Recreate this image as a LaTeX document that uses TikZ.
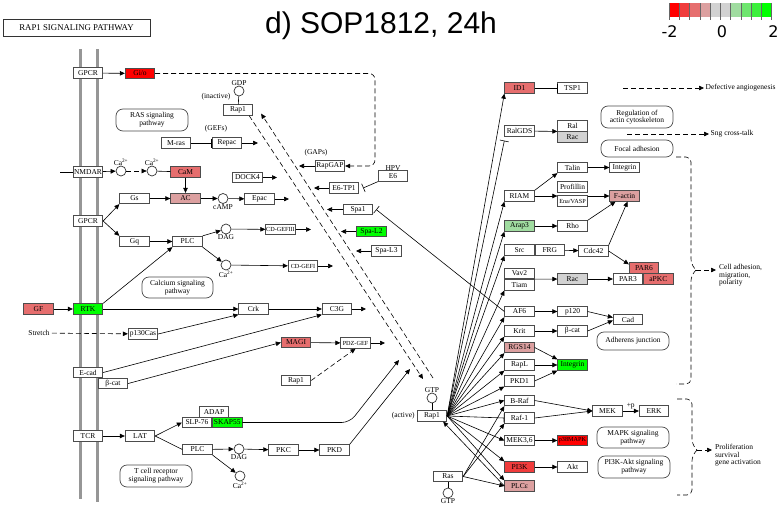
\documentclass[tikz,border=0pt]{standalone}
\usepackage{fontspec}
\setmainfont{Liberation Serif}
\newfontfamily\titlefont{Liberation Sans}
\newfontfamily\barfont{DejaVu Sans}
\usetikzlibrary{positioning,calc,arrows.meta}
\definecolor{lfcA}{RGB}{255,0,0}
\definecolor{lfcB}{RGB}{240,60,60}
\definecolor{lfcC}{RGB}{230,110,110}
\definecolor{lfcD}{RGB}{220,160,160}
\definecolor{lfcE}{RGB}{210,210,210}
\definecolor{lfcF}{RGB}{210,210,210}
\definecolor{lfcG}{RGB}{160,220,160}
\definecolor{lfcH}{RGB}{110,230,110}
\definecolor{lfcI}{RGB}{60,240,60}
\definecolor{lfcJ}{RGB}{0,255,0}
\definecolor{membr}{RGB}{150,150,150}
\newcommand{\kfont}{\fontsize{7.5}{7.6}\selectfont}
\newcommand{\ksmall}{\fontsize{6.2}{6.2}\selectfont}

\begin{document}
\begin{tikzpicture}[x=1pt, y=-1pt, font=\kfont,
  gene/.style={draw=black!70, line width=0.8pt, fill=white, minimum width=29.5pt, minimum height=10.5pt, inner sep=0pt},
  narrow/.style={gene, font=\ksmall},
  cpd/.style={circle, draw=black!80, line width=0.7pt, fill=white, minimum size=10pt, inner sep=0pt},
  pmap/.style={draw=black!70, line width=0.7pt, rounded corners=7pt, align=center, inner sep=0pt},
  lbl/.style={inner sep=0pt},
  act/.style={-{Triangle[length=5pt,width=4.5pt]}, line width=0.6pt},
  inh/.style={-{Bar[width=9pt]}, line width=0.6pt},
  link/.style={line width=0.6pt},
  dsh/.style={dash pattern=on 5pt off 3pt, line width=0.6pt},
  brace/.style={dsh, rounded corners=5pt}]

\fill[white] (0,0) rectangle (779,506);
\useasboundingbox (0,0) rectangle (779,506);

% header and colour key
\node[draw=black!80, line width=1pt, minimum width=147pt, minimum height=17pt, inner sep=0pt,
  font=\fontsize{8.8}{8.8}\selectfont] (ttl) at (76.5,27.5) {RAP1 SIGNALING PATHWAY};
\node[anchor=base, inner sep=0pt, font=\titlefont\fontsize{30}{30}\selectfont] (hdr) at (381,33) {d) SOP1812, 24h};
\foreach \c [count=\i from 0] in {lfcA,lfcB,lfcC,lfcD,lfcE,lfcF,lfcG,lfcH,lfcI,lfcJ}
  \fill[\c] (669.3+10.24*\i,3.3) rectangle ++(10.24,13.4);
\foreach \i in {0,...,10}
  \draw[black!60, line width=0.6pt] (669.3+10.24*\i,3.3) -- ++(0,16.5);
\node[anchor=base, inner sep=0pt, font=\barfont\fontsize{16}{16}\selectfont] (keylo) at (669.5,37) {-2};
\node[anchor=base, inner sep=0pt, font=\barfont\fontsize{16}{16}\selectfont] (keymid) at (722,37) {0};
\node[anchor=base, inner sep=0pt, font=\barfont\fontsize{16}{16}\selectfont] (keyhi) at (773.5,37) {2};

% membrane
\draw[membr, line width=3pt] (80,49) -- (80,499);
\draw[membr, line width=3pt] (97,49) -- (97,502);

% left part
\node[gene] (gpcrA) at (88,73) {GPCR};
\node[gene, fill=lfcA] (gio) at (140,73.5) {Gi/o};
\node[cpd, label={[lbl]above:GDP}] (gdp) at (239,91) {};
\node[gene] (rapIn) at (238,110) {Rap1};
\node[lbl] (inact) at (216,97) {(inactive)};
\node[pmap, minimum width=72pt, minimum height=22pt] (rasmap) at (152,120) {RAS signaling\\pathway};
\node[lbl] (gefs) at (216,129) {(GEFs)};
\node[gene] (mras) at (176,143) {M-ras};
\node[gene] (repac) at (227,143) {Repac};
\coordinate (repacEnd) at (258,143);

\coordinate (nmdarIn) at (60,172);
\node[gene] (nmdar) at (88,172) {NMDAR};
\node[cpd, label={[lbl]above:Ca\textsuperscript{2+}}] (caA) at (121,171) {};
\node[cpd, label={[lbl]above:Ca\textsuperscript{2+}}] (caB) at (152,171) {};
\node[gene, fill=lfcC] (cam) at (185.5,172) {CaM};
\node[gene] (gs) at (134.5,198.5) {Gs};
\node[gene, fill=lfcD] (ac) at (185.5,198.5) {AC};
\node[cpd, label={[lbl]below:cAMP}] (camp) at (223,198.5) {};
\node[gene] (epac) at (259.5,199) {Epac};
\coordinate (epacEnd) at (289,199);
\node[gene] (dock) at (247.5,177.5) {DOCK4};
\coordinate (dockEnd) at (277,177.5);

\node[gene] (gpcrB) at (88,221) {GPCR};
\node[gene] (gq) at (134.5,241.5) {Gq};
\node[gene] (plcA) at (187.5,241.5) {PLC};
\node[cpd, label={[lbl]below:DAG}] (dagA) at (226,229) {};
\node[cpd, label={[lbl]below:Ca\textsuperscript{2+}}] (caC) at (226,265) {};
\node[narrow] (cdgefc) at (280.5,229.5) {CD-GEFIII};
\node[narrow] (cdgefa) at (303,266) {CD-GEFI};
\coordinate (cdgefcEnd) at (311,229.5);
\coordinate (cdgefaEnd) at (333,266);
\node[pmap, minimum width=71pt, minimum height=21pt] (calmap) at (177.5,287.5) {Calcium signaling\\pathway};

\node[gene, fill=lfcC] (gf) at (38.5,309) {GF};
\node[gene, fill=lfcJ] (rtk) at (88,309) {RTK};
\node[gene] (crk) at (253.5,309) {Crk};
\node[gene] (c3g) at (337,309) {C3G};
\coordinate (c3gEnd) at (366,309);
\node[lbl, inner sep=2pt] (stretch) at (39,333) {Stretch};
\node[gene] (pcas) at (143,334) {p130Cas};
\node[gene] (ecad) at (88,372.5) {E-cad};
\node[gene] (bcatA) at (113,383.5) {β-cat};
\node[gene, fill=lfcC] (magi) at (296,342.5) {MAGI};
\node[narrow] (pdzgef) at (355.5,343) {PDZ-GEF};
\coordinate (pdzgefEnd) at (385,343);
\node[gene] (rapLow) at (296,380.5) {Rap1};

\node[gene] (tcr) at (88,436) {TCR};
\node[gene] (lat) at (140,436) {LAT};
\node[gene] (slp) at (197,422.5) {SLP-76};
\node[gene, fill=lfcJ, anchor=west] (skap) at (slp.east) {SKAP55};
\node[gene] (adap) at (214,412) {ADAP};
\node[gene] (plcB) at (197.5,449.5) {PLC};
\node[cpd, label={[lbl]below:DAG}] (dagB) at (239,449) {};
\node[cpd, label={[lbl]below:Ca\textsuperscript{2+}}] (caD) at (240,476) {};
\node[gene] (pkc) at (283.5,450) {PKC};
\node[gene] (pkd) at (334.5,450) {PKD};
\coordinate (pkdEnd) at (410,369);
\coordinate (skapEnd) at (399,360);
\node[pmap, minimum width=72pt, minimum height=22pt] (tcrmap) at (156,476) {T cell receptor\\signaling pathway};

% middle part
\node[gene] (rapgap) at (330,166) {RapGAP};
\node[lbl] (gaps) at (316,152.5) {(GAPs)};
\coordinate (rapgapEnd) at (299,166);
\coordinate (gioBend) at (375,166);
\node[gene] (e6tp) at (344,188) {E6-TP1};
\coordinate (e6tpEnd) at (314,188);
\node[gene, label={[lbl]above:HPV}] (e6) at (393,176) {E6};
\node[gene] (spa1) at (358,209.5) {Spa1};
\coordinate (spa1End) at (327,209.5);
\node[gene, fill=lfcJ] (spal2) at (371.5,231.5) {Spa-L2};
\coordinate (spal2End) at (341,231.5);
\node[gene] (spal3) at (386.5,251) {Spa-L3};
\coordinate (spal3End) at (356,251);
\node[gene] (rapAct) at (432,416) {Rap1};
\node[cpd, label={[lbl]above:GTP}] (gtpA) at (432,398) {};
\node[lbl, left=2pt of rapAct] (actv) {(active)};
\node[gene] (ras) at (448,476.5) {Ras};
\node[cpd, label={[lbl]below:GTP}] (gtpB) at (448,493) {};
\coordinate (dashA) at (423,379);
\coordinate (dashB) at (433,378);

% right part
\node[gene, fill=lfcC] (id1) at (519.5,88) {ID1};
\node[gene] (tsp1) at (572.5,88) {TSP1};
\coordinate (angioStart) at (623,88);
\node[lbl, inner sep=1.5pt, anchor=west] (angio) at (704,88) {Defective angiogenesis};
\node[pmap, minimum width=72pt, minimum height=22pt] (actmap) at (637,117) {Regulation of\\actin cytoskeleton};
\node[gene] (ralgds) at (519.5,131) {RalGDS};
\node[gene] (ral) at (572.5,125.75) {Ral};
\node[gene, fill=lfcE, below=0pt of ral] (racA) {Rac};
\coordinate (sngStart) at (627,134);
\node[lbl, inner sep=1.5pt, anchor=west] (sng) at (709,134) {Sng cross-talk};
\node[pmap, minimum width=72pt, minimum height=17pt] (focmap) at (637,148.5) {Focal adhesion};
\node[gene] (talin) at (572.5,167.5) {Talin};
\node[gene] (integA) at (624.5,167.5) {Integrin};
\node[gene] (prof) at (572.5,187) {Profillin};
\node[narrow] (ena) at (572.5,201) {Ena/VASP};
\node[gene, fill=lfcD] (factin) at (624.5,196) {F-actin};
\node[gene] (riam) at (519.5,196) {RIAM};
\node[gene, fill=lfcG] (arap3) at (519.5,226) {Arap3};
\node[gene] (rho) at (572.5,226) {Rho};
\node[gene] (src) at (519.5,250) {Src};
\node[gene, right=0pt of src] (frg) {FRG};
\node[gene] (cdc42) at (593.5,251) {Cdc42};
\node[gene, fill=lfcC] (par6) at (644,268) {PAR6};
\node[gene] (par3) at (628,279) {PAR3};
\node[gene, fill=lfcC, right=0pt of par3] (apkc) {aPKC};
\node[gene] (vav2) at (519.5,273.5) {Vav2};
\node[gene, below=0pt of vav2] (tiam) {Tiam};
\node[gene, fill=lfcE] (racB) at (572.5,279) {Rac};
\node[gene] (af6) at (519.5,311.5) {AF6};
\node[gene] (p120) at (572.5,311.5) {p120};
\node[gene] (cad) at (628,319.5) {Cad};
\node[gene] (krit) at (519.5,331) {Krit};
\node[gene] (bcatB) at (572.5,331) {β-cat};
\node[pmap, minimum width=72pt, minimum height=18pt] (adhmap) at (633,341) {Adherens junction};
\node[gene, fill=lfcD] (rgs14) at (519.5,347.5) {RGS14};
\node[gene] (rapl) at (519.5,365) {RapL};
\node[gene, fill=lfcJ] (integB) at (572.5,365) {Integrin};
\node[gene] (pkd1) at (519.5,381) {PKD1};
\node[gene] (braf) at (519.5,400.5) {B-Raf};
\node[gene] (raf1) at (519.5,418) {Raf-1};
\node[gene] (mek) at (607.5,411) {MEK};
\node[gene] (erk) at (654,411) {ERK};
\node[gene] (mek36) at (519.5,440.5) {MEK3,6};
\node[narrow, fill=lfcA] (p38) at (572.5,440.5) {p38MAPK};
\node[pmap, minimum width=72pt, minimum height=21pt] (mapkmap) at (633,437.5) {MAPK signaling\\pathway};
\node[gene, fill=lfcB] (pi3k) at (519.5,467) {PI3K};
\node[gene] (akt) at (572.5,467) {Akt};
\node[pmap, minimum width=72pt, minimum height=22pt] (pi3kmap) at (634,467) {PI3K-Akt signaling\\pathway};
\node[gene, fill=lfcD] (plce) at (519.5,486) {PLCε};
\node[lbl, anchor=north west, align=left] (celladh) at (719,264) {Cell adhesion,\\migration,\\polarity};
\node[lbl, anchor=north west, align=left] (prolif) at (715,444) {Proliferation\\survival\\gene activation};
\coordinate (braceA) at (696,270);
\coordinate (braceAEnd) at (716,270);
\coordinate (braceB) at (697,450);
\coordinate (braceBEnd) at (712,450);

% connectors
\draw[act] (gpcrA) -- (gio);
\draw[act, dsh, rounded corners=6pt] (gio.east) -| (gioBend) -- (rapgap.east);
\draw[link] (gdp) -- (rapIn);
\draw[inh] (mras) -- (repac);
\draw[act] (repac) -- (repacEnd);
\draw[act, dsh] ([xshift=-4pt]rapIn.south east) -- (dashA);
\draw[act, dsh] (dashB) -- ([xshift=8pt,yshift=2pt]rapIn.south east);
\draw[link] (nmdarIn) -- (nmdar);
\draw[act] (nmdar) -- (caA);
\draw[act, dsh] (caA) -- (caB);
\draw[link] (caB) -- (cam);
\draw[act] (cam) -- (ac);
\draw[act] (gs) -- (ac);
\draw[act] (ac) -- (camp);
\draw[act] (camp) -- (epac);
\draw[act] (epac) -- (epacEnd);
\draw[act] (dock) -- (dockEnd);
\draw[act] (gpcrB.east) -- (gs.south west);
\draw[act] (gpcrB.east) -- (gq.north west);
\draw[act] (gq) -- (plcA);
\draw[act] (plcA.north east) -- (dagA);
\draw[act] (plcA.south east) -- (caC);
\draw[act] (dagA) -- (cdgefc);
\draw[act] (caC) -- (cdgefa);
\draw[act] (cdgefc) -- (cdgefcEnd);
\draw[act] (cdgefa) -- (cdgefaEnd);
\draw[act] (gf) -- (rtk);
\draw[act] (rtk.north east) -- (plcA.south west);
\draw[act] (rtk) -- (crk);
\draw[act] (crk) -- (c3g);
\draw[act] (c3g) -- (c3gEnd);
\draw[act, dsh] (stretch) -- (pcas);
\draw[act] (pcas.east) -- (crk.south west);
\draw[act] (ecad.east) -- (c3g.south west);
\draw[act] (bcatA.east) -- (magi.west);
\draw[act] (magi) -- (pdzgef);
\draw[act] (pdzgef) -- (pdzgefEnd);
\draw[act, dsh] (rapLow.east) -- (pdzgef.south);
\draw[act] (tcr) -- (lat);
\draw[act] (lat.east) -- (slp.west);
\draw[link] (lat.east) -- (plcB.west);
\draw[act] (plcB) -- (dagB);
\draw[act] (plcB.south east) -- (caD);
\draw[act] (dagB) -- (pkc);
\draw[act] (pkc) -- (pkd);
\draw[act, rounded corners=8pt] (skap.east) -- (skap.east -| pkd.east) -- (skapEnd);
\draw[act] (pkd.north east) -- (pkdEnd);
\draw[act] (rapgap) -- (rapgapEnd);
\draw[act] (e6tp) -- (e6tpEnd);
\draw[inh] (e6.south west) -- ([xshift=4pt]e6tp.east);
\draw[act] (spa1) -- (spa1End);
\draw[inh] (af6.west) -- ([xshift=3pt]spa1.east);
\draw[act] (spal2) -- (spal2End);
\draw[act] (spal3) -- (spal3End);
\draw[link] (gtpA) -- (rapAct);
\draw[link] (ras) -- (gtpB);

\foreach \tgt in {riam, arap3, src, tiam, af6, krit, rgs14, rapl, pkd1}
  \draw[act] (rapAct.east) -- (\tgt.south west);
\foreach \tgt in {braf, mek36}
  \draw[act] (rapAct.east) -- (\tgt.west);
\foreach \tgt in {pi3k, plce}
  \draw[act] (rapAct.east) -- (\tgt.north west);
\draw[act] (rapAct.east) -- (id1.south west);
\draw[inh] (rapAct.east) -- ([yshift=-4pt]ralgds.south west);
\draw[inh] (rapAct.east) -- (raf1.west);
\draw[act] (plce.west) -- ([xshift=-4pt]rapAct.south east);
\foreach \tgt in {braf, raf1}
  \draw[act] (ras.east) -- (\tgt.south west);
\draw[act] (ras.east) -- (plce.west);

\draw[inh] (id1) -- (tsp1);
\draw[act, dsh] (angioStart) -- (angio);
\draw[act] (ralgds) -- (ral.south west);
\draw[act, dsh] (sngStart) -- (sng);
\draw[act] (riam.north east) -- (talin.south west);
\draw[act] (riam.east) -- (riam.east -| ena.west);
\draw[act] (talin) -- (integA);
\draw[act] (ena.east |- factin.west) -- (factin.west);
\draw[act] (rho.north east) -- ([xshift=-9pt]factin.south);
\draw[act] (cdc42.north east) -- ([xshift=3pt]factin.south);
\draw[act] (arap3) -- (rho);
\draw[act] (frg) -- (cdc42);
\draw[act] (cdc42.east) -- ([yshift=-2pt]par6.north west);
\draw[act] (vav2.south east) -- (racB);
\draw[act] (racB) -- (par3);
\draw[act] (af6) -- (p120);
\draw[act] (p120.east) -- ([yshift=2pt]cad.west);
\draw[act] (bcatB.east) -- ([yshift=-1pt]cad.west);
\draw[act] (krit) -- (bcatB);
\draw[act] (rgs14.east) -- (integB.north west);
\draw[act] (rapl) -- (integB);
\draw[act] (pkd1.east) -- (integB.south west);
\draw[act] (braf.east) -- (mek.west);
\draw[act] (raf1.east) -- (mek.west);
\draw[act] (mek) -- node[lbl, above=2pt] (phos) {+p} (erk);
\draw[act] (mek36) -- (p38);
\draw[act] (pi3k) -- (akt);

% brackets
\draw[brace] (676,157) -- (691,157) -- (691,264) -- (696,270);
\draw[brace] (696,270) -- (691,276) -- (691,384) -- (676,384);
\draw[act, dsh] (braceA) -- (braceAEnd);
\draw[brace] (677,399) -- (692,399) -- (692,444) -- (697,450);
\draw[brace] (697,450) -- (692,456) -- (692,495) -- (677,495);
\draw[act, dsh] (braceB) -- (braceBEnd);
\end{tikzpicture}
\end{document}
